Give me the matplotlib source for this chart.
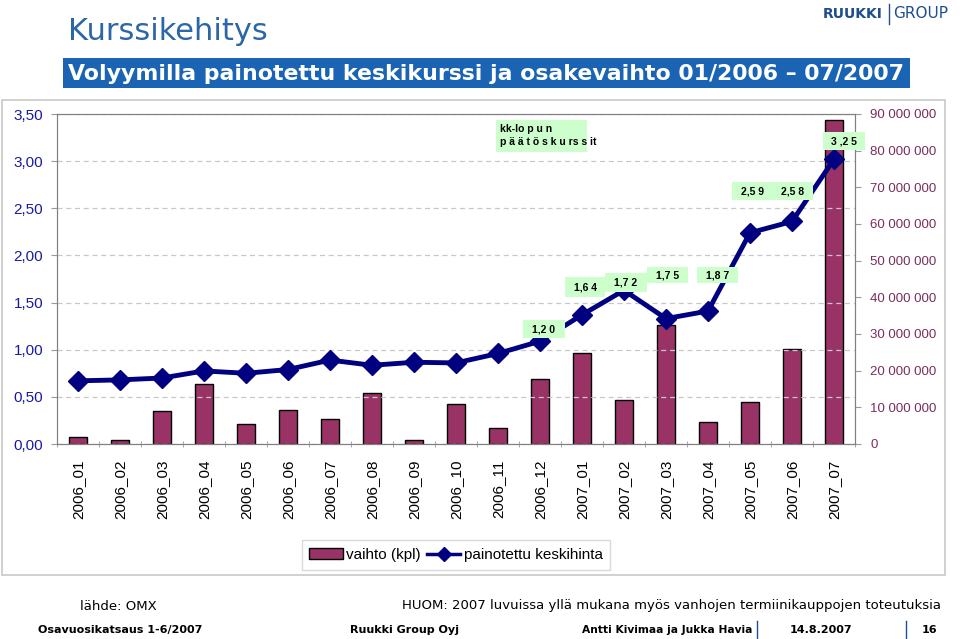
import numpy as np
import matplotlib.pyplot as plt
from matplotlib.patches import Rectangle
from matplotlib.lines import Line2D

plt.rcParams['font.family'] = ['Liberation Sans', 'DejaVu Sans']

months = ["2006_01", "2006_02", "2006_03", "2006_04", "2006_05", "2006_06",
          "2006_07", "2006_08", "2006_09", "2006_10", "2006_11", "2006_12",
          "2007_01", "2007_02", "2007_03", "2007_04", "2007_05", "2007_06",
          "2007_07"]
vaihto = [1.9e6, 1.0e6, 9.1e6, 16.3e6, 5.5e6, 9.4e6, 6.9e6, 13.8e6, 1.0e6,
          10.9e6, 4.4e6, 17.7e6, 24.7e6, 12.0e6, 32.4e6, 6.0e6, 11.4e6,
          26.0e6, 88.3e6]
hinta = [0.67, 0.68, 0.70, 0.775, 0.75, 0.79, 0.89, 0.835, 0.867, 0.86,
         0.96, 1.09, 1.37, 1.63, 1.33, 1.41, 2.24, 2.36, 3.02]

# kk-lopun paatoskurssit: (label, x-left px, y-top px, x-right px, y-bottom px)
labels = ["1,2 0", "1,6 4", "1,7 2", "1,7 5", "1,8 7", "2,5 9", "2,5 8", "3 ,2 5"]
label_boxes = [(523, 320, 565, 338), (565, 277, 605, 297), (605, 273, 647, 292),
               (647, 267, 688, 283), (697, 267, 738, 283), (732, 182, 773, 200),
               (773, 182, 813, 200), (823, 132, 865, 150)]

W, H = 960, 639
fig = plt.figure(figsize=(W / 100, H / 100), dpi=100)

def fx(px):
    return px / W

def fy(py):
    return 1 - py / H

# outer chart frame
fig.patches.append(Rectangle((fx(2), fy(575)), fx(943), 475 / H, transform=fig.transFigure,
                             fill=False, edgecolor="#c8c8c8", lw=1.2))

ax = fig.add_axes([fx(57), fy(444), fx(855 - 57), (444 - 114) / H])
x = np.arange(len(months))
ax2 = ax.twinx()
ax.set_zorder(ax2.get_zorder() + 1)
ax.patch.set_visible(False)

ax2.bar(x, vaihto, width=0.45, color="#993366", edgecolor="black", lw=1)
ax2.set_ylim(0, 90e6)
ax2.set_yticks(np.arange(0, 90e6 + 1, 10e6))
ax2.set_yticklabels(["0" if v == 0 else f"{int(v):,}".replace(",", " ")
                     for v in np.arange(0, 90e6 + 1, 10e6)])
ax2.tick_params(axis="y", colors="#9a9a9a", labelcolor="#7a2e5c", labelsize=9.5, length=4, pad=7)

ax.plot(x, hinta, color="#000080", lw=3.5, marker="D", markersize=10, zorder=5)
ax.set_ylim(0, 3.5)
ax.set_xlim(-0.5, len(months) - 0.5)
ax.set_yticks(np.arange(0, 3.51, 0.5))
ax.set_yticklabels([f"{v:.2f}".replace(".", ",") for v in np.arange(0, 3.51, 0.5)])
ax.tick_params(axis="y", colors="#9a9a9a", labelcolor="#1a1aa0", labelsize=11, length=4, pad=6)
ax.yaxis.grid(True, linestyle=(0, (4, 3)), color="#c8c8c8", lw=0.9)
ax.set_axisbelow(True)
ax.set_xticks(x)
ax.set_xticklabels(months, rotation=90, fontsize=11)
ax.set_xticks(np.arange(-0.5, len(months), 1), minor=True)
ax.tick_params(axis="x", which="major", length=0, pad=11)
ax.tick_params(axis="x", which="minor", length=5, color="#9a9a9a", direction="inout")
for a in (ax, ax2):
    for s in a.spines.values():
        s.set_color("#808080")

# label boxes
for lab, (x0, y0, x1, y1) in zip(labels, label_boxes):
    fig.patches.append(Rectangle((fx(x0), fy(y1)), fx(x1 - x0), (y1 - y0) / H,
                                 transform=fig.transFigure, facecolor="#ccffcc",
                                 edgecolor="none", zorder=10))
    fig.text(fx((x0 + x1) / 2), fy((y0 + y1) / 2), lab, ha="center", va="center",
             fontsize=7.5, fontweight="bold", zorder=11)
fig.patches.append(Rectangle((fx(496), fy(152)), fx(91), 32 / H, transform=fig.transFigure,
                             facecolor="#ccffcc", edgecolor="none", zorder=10))
fig.text(fx(500), fy(129), "kk-lo p u n", fontsize=7.5, fontweight="bold", va="center", zorder=11)
fig.text(fx(500), fy(142), "p ä ä t ö s k u rs s it", fontsize=7.5, fontweight="bold",
         va="center", zorder=11)

# legend
handles = [Rectangle((0, 0), 1, 1, facecolor="#993366", edgecolor="black"),
           Line2D([], [], color="#000080", lw=2.5, marker="D", markersize=7)]
leg = fig.legend(handles, ["vaihto (kpl)", "painotettu keskihinta"],
                 loc="center", bbox_to_anchor=(fx(456), fy(555)), ncol=2,
                 fontsize=11, frameon=True, fancybox=False, handlelength=2.2,
                 handletextpad=0.2, columnspacing=0.4, borderpad=0.5)
leg.get_frame().set_edgecolor("#d0d0d0")

# header
fig.text(fx(68), fy(32), "Kurssikehitys", fontsize=22, color="#2b66a8", va="center",
         family="DejaVu Sans")
fig.patches.append(Rectangle((fx(63), fy(88)), fx(847), 30 / H, transform=fig.transFigure,
                             facecolor="#1b63b3", edgecolor="none"))
fig.text(fx(68), fy(74), "Volyymilla painotettu keskikurssi ja osakevaihto 01/2006 \u2013 07/2007",
         fontsize=15.8, fontweight="bold", color="white", va="center", family="DejaVu Sans")
fig.text(fx(823), fy(14), "RUUKKI", fontsize=10, fontweight="bold", color="#1f4e8c", va="center",
         family="DejaVu Sans")
fig.text(fx(893), fy(14), "GROUP", fontsize=11, color="#1f4e8c", va="center", family="DejaVu Sans")
fig.add_artist(Line2D([fx(889), fx(889)], [fy(4), fy(24)], color="#1f4e8c", lw=1))

# footer
fig.text(fx(80), fy(606), "lähde: OMX", fontsize=9.5, va="center", family="DejaVu Sans")
fig.text(fx(402), fy(606), "HUOM: 2007 luvuissa yllä mukana myös vanhojen termiinikauppojen toteutuksia",
         fontsize=9.5, va="center", family="DejaVu Sans")
fig.text(fx(38), fy(630), "Osavuosikatsaus 1-6/2007", fontsize=8, fontweight="bold", va="center",
         family="DejaVu Sans")
fig.text(fx(350), fy(630), "Ruukki Group Oyj", fontsize=8, fontweight="bold", va="center",
         family="DejaVu Sans")
fig.text(fx(582), fy(630), "Antti Kivimaa ja Jukka Havia", fontsize=7.7, fontweight="bold", va="center",
         family="DejaVu Sans")
fig.text(fx(790), fy(630), "14.8.2007", fontsize=8, fontweight="bold", va="center",
         family="DejaVu Sans")
fig.text(fx(922), fy(630), "16", fontsize=8, fontweight="bold", va="center", family="DejaVu Sans")
for px in (757, 906):
    fig.add_artist(Line2D([fx(px), fx(px)], [fy(621), fy(638)], color="#1f4e8c", lw=1))

fig.savefig("out.png", dpi=100)
